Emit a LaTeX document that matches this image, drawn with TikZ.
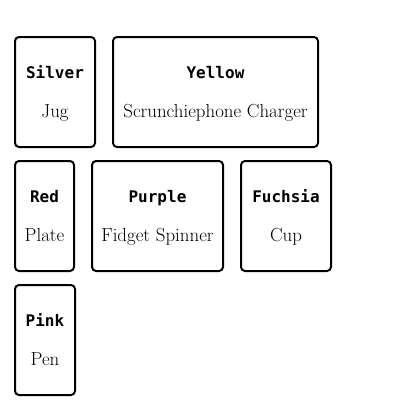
\documentclass[tikz,border=0pt]{standalone}
\usepackage{fontspec}
\setmonofont{DejaVu Sans Mono}
\begin{document}
\begin{tikzpicture}[x=1pt,y=-1pt,
  card/.style={draw=black, line width=2pt, rounded corners=4pt, minimum height=110pt, inner sep=0pt},
  ttl/.style={anchor=base, inner sep=0pt, font=\ttfamily\bfseries\fontsize{16}{19}\selectfont},
  sub/.style={anchor=base, inner sep=0pt, font=\fontsize{18.9}{22}\selectfont}]
\useasboundingbox (0,0) rectangle (400,410);
% row 1
\node[card, minimum width=80pt] (silver) at (55,92) {};
\node[ttl] (silvert) at (55,78) {Silver};
\node[sub] (silvers) at (55,117) {Jug};
\node[card, minimum width=205pt] (yellow) at (215.5,92) {};
\node[ttl] (yellowt) at (215.5,78) {Yellow};
\node[sub] (yellows) at (215.5,117) {Scrunchiephone Charger};
% row 2
\node[card, minimum width=59pt] (red) at (44.5,216) {};
\node[ttl] (redt) at (44.5,202) {Red};
\node[sub] (reds) at (44.5,241) {Plate};
\node[card, minimum width=131pt] (purple) at (157.5,216) {};
\node[ttl] (purplet) at (157.5,202) {Purple};
\node[sub] (purples) at (157.5,241) {Fidget Spinner};
\node[card, minimum width=90pt] (fuchsia) at (286,216) {};
\node[ttl] (fuchsiat) at (286,202) {Fuchsia};
\node[sub] (fuchsias) at (286,241) {Cup};
% row 3
\node[card, minimum width=60pt] (pink) at (45,340) {};
\node[ttl] (pinkt) at (45,326) {Pink};
\node[sub] (pinks) at (45,365) {Pen};
\end{tikzpicture}
\end{document}
